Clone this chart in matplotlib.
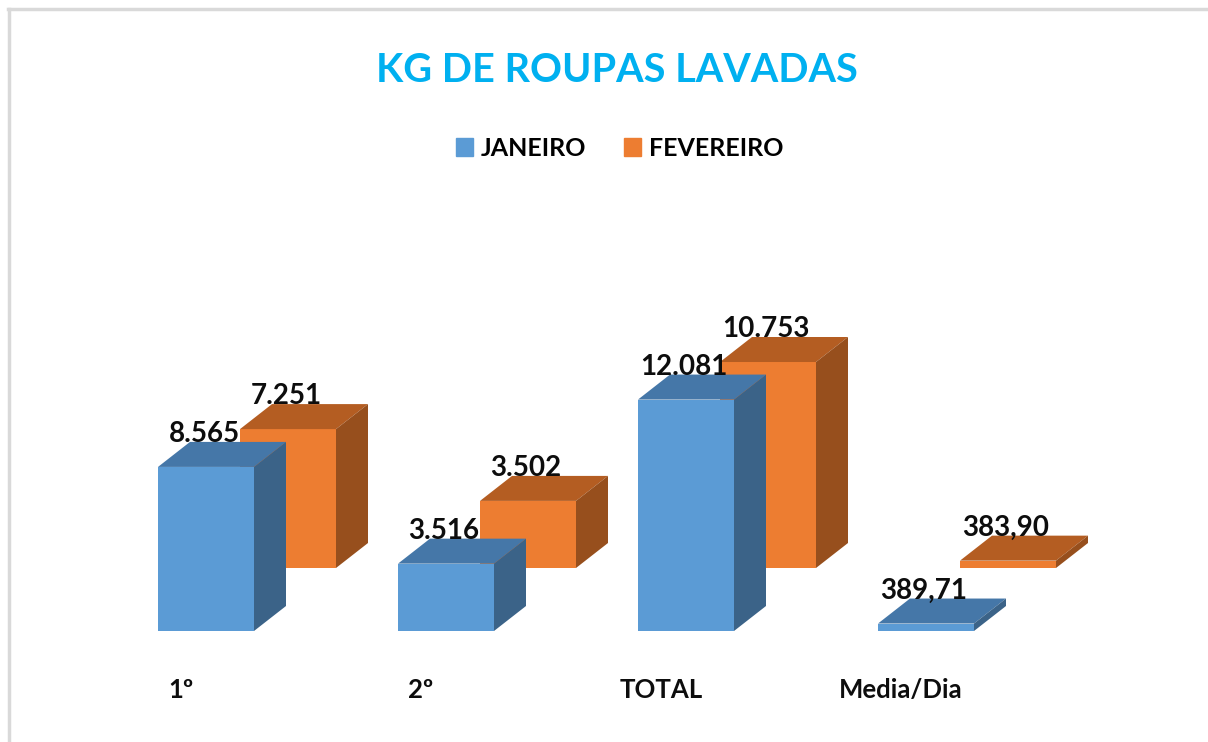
import numpy as np
import matplotlib.pyplot as plt
from matplotlib.patches import Polygon, Patch

# dados
categorias = ['1º', '2º', 'TOTAL', 'Media/Dia']
janeiro = [8565, 3516, 12081, 389.71]
fevereiro = [7251, 3502, 10753, 383.90]
series = ['JANEIRO', 'FEVEREIRO']

plt.rcParams['font.family'] = ['Lato', 'DejaVu Sans']

# cores (frente, topo, lado)
cores_jan = ('#5B9BD5', '#4577A8', '#3B6388')
cores_fev = ('#ED7D31', '#B45D22', '#974F1D')

def fmt(v):
    if v >= 1000:
        return '{:,.0f}'.format(v).replace(',', '.')
    return '{:.2f}'.format(v).replace('.', ',')

fig = plt.figure(figsize=(12.08, 7.42), dpi=100)
ax = fig.add_axes([0, 0, 1, 1])
# escala: 1 categoria = 240 px, 1 px ~ 52.2 kg
px_x = 1 / 240.0
px_y = 52.2
ax.set_xlim(-206 * px_x, (1208 - 206) * px_x)
ax.set_ylim(-111 * px_y, (742 - 111) * px_y)
ax.axis('off')

largura = 96 * px_x
prof_x, prof_y = 32 * px_x, 25 * px_y       # profundidade da barra
linha_x, linha_y = 82 * px_x, 63 * px_y     # deslocamento da serie de tras

def barra3d(xc, base, h, cores):
    x0, x1 = xc - largura / 2, xc + largura / 2
    frente, topo, lado = cores
    ax.add_patch(Polygon([(x0, base), (x1, base), (x1, base + h), (x0, base + h)],
                         closed=True, fc=frente, ec='none'))
    ax.add_patch(Polygon([(x0, base + h), (x1, base + h), (x1 + prof_x, base + h + prof_y),
                          (x0 + prof_x, base + h + prof_y)], closed=True, fc=topo, ec='none'))
    ax.add_patch(Polygon([(x1, base), (x1 + prof_x, base + prof_y), (x1 + prof_x, base + h + prof_y),
                          (x1, base + h)], closed=True, fc=lado, ec='none'))

x = np.arange(len(categorias))
# serie de tras primeiro
for i, v in enumerate(fevereiro):
    barra3d(x[i] + linha_x, linha_y, v, cores_fev)
for i, v in enumerate(janeiro):
    barra3d(x[i], 0, v, cores_jan)

for i in range(len(categorias)):
    ax.text(x[i] + linha_x - 2 * px_x, linha_y + fevereiro[i] + prof_y, fmt(fevereiro[i]),
            ha='center', va='baseline', fontsize=20, fontweight='bold', color='#0D0D0D')
    ax.text(x[i] - 2 * px_x, janeiro[i] + prof_y, fmt(janeiro[i]),
            ha='center', va='baseline', fontsize=20, fontweight='bold', color='#0D0D0D')
    ax.text(x[i] - 25 * px_x, -59 * px_y, categorias[i], ha='center', va='center',
            fontsize=18.5, fontweight='bold', color='#0D0D0D')

fig.text(0.5105, 0.905, 'KG DE ROUPAS LAVADAS', ha='center', va='center',
         fontsize=28.5, fontweight='bold', color='#00B0F0')

handles = [Patch(color=cores_jan[0]), Patch(color=cores_fev[0])]
fig.legend(handles, series, loc='center', bbox_to_anchor=(0.513, 0.8), ncol=2,
           frameon=False, handlelength=0.7, handleheight=0.7, handletextpad=0.3,
           columnspacing=1.5, prop={'size': 18, 'weight': 'bold'})

# moldura cinza (topo e esquerda)
fig.add_artist(plt.Line2D([8 / 1208, 1], [1 - 9 / 742, 1 - 9 / 742], color='#D9D9D9', lw=2.5))
fig.add_artist(plt.Line2D([8.5 / 1208, 8.5 / 1208], [0, 1 - 9 / 742], color='#D9D9D9', lw=2.5))

fig.savefig('out.png', dpi=100, facecolor='white')
